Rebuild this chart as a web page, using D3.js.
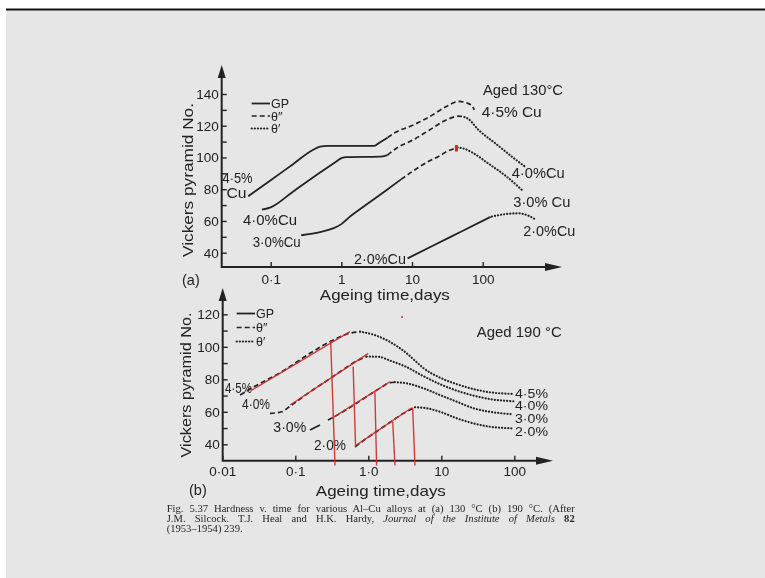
<!DOCTYPE html>
<html><head><meta charset="utf-8">
<script src="https://cdn.jsdelivr.net/npm/d3@7"></script>
<style>
html,body{margin:0;padding:0;background:#fff;}
svg{display:block;}
</style></head>
<body>
<script>
// ---------------- DATA ----------------
// Panel (a): aged 130 °C  — [ageing time (days), Vickers hardness]
const a45_GP  = [[0.048,75.6],[0.1,85.7],[0.2,95.3],[0.4,104.9],[0.5,106.8],[0.65,107.3],[2.9,107.3],[3.5,109.5],[4.5,112.5]];
const a45_th2 = [[4.5,112.5],[5.95,116],[10.2,120.3],[17.5,125.6],[30,131.9],[46,135.3],[61,134.2],[72,132],[76,130]];
const a40_GP  = [[0.075,67.2],[0.1,68.6],[0.2,78],[0.5,90.5],[0.85,97.5],[1.0,99.6],[1.2,100.2],[3.5,100.5],[4.5,101.5]];
const a40_th2 = [[4.5,101.5],[5.95,105.7],[10.2,110.9],[17.5,117.2],[30,123.5],[46,126],[55,125.5]];
const a40_th1 = [[55,125.5],[61,124.6],[88,117.2],[152,108.8],[261,100.4],[404,94]];
const a30_GP  = [[0.27,51],[0.5,53],[0.76,55.3],[1.0,58],[1.31,62.6],[2,68.6],[4,78.3],[7,86.2]];
const a30_th2 = [[7,86.2],[11,92.3],[17,97.5],[24,100.8],[32,104],[44,106.3]];
const a30_th1 = [[44,106.3],[55,105.5],[72,103],[122,96],[210,88.5],[360,79.5]];
const a20_GP  = [[8.65,36.4],[20,44.5],[50,53.4],[129,62.6]];
const a20_th1 = [[135,62.8],[200,64.2],[320,64.8],[450,63.2],[555,61]];

// Panel (b): aged 190 °C
const b45_th2 = [[0.0175,70.3],[0.025,74.5],[0.0685,85.2],[0.159,96],[0.332,104.2],[0.55,108.3],[0.77,109.3]];
const b45_th1 = [[0.77,109.3],[1.17,107.5],[1.98,103],[3.36,96],[4.6,90.5],[5.66,87],[9.6,81],[16.3,77],[27.5,74],[46.5,72],[97,71]];
const b40_th2 = [[0.045,59],[0.065,60],[0.085,63.5],[0.15,71.5],[0.3,80.5],[0.5,87.3],[0.69,91.3],[0.95,94]];
const b40_th1 = [[0.95,94],[1.4,93.8],[1.98,91.5],[3.36,87.5],[5.66,82],[9.6,77],[16.3,73],[27.5,70],[46.5,67.8],[97,66.5]];
const b30_GP  = [[0.159,48.8],[0.218,51.9]];
const b30_th2 = [[0.28,55],[0.45,60],[0.69,65.3],[1.0,70],[1.5,75],[2.0,78],[2.3,78.2]];
const b30_th1 = [[2.3,78.2],[3.36,77.5],[5.66,74.5],[9.6,70.3],[16.3,66.2],[27.5,62.2],[46.5,60],[97,58.5]];
const b20_th2 = [[0.66,38.5],[1.0,44.4],[1.8,52.2],[3,58.9],[4.36,62.8]];
const b20_th1 = [[4.36,62.8],[6.3,62.2],[9.6,60],[16.3,56],[27.5,52.9],[46.5,50.8],[97,49.8]];

// red pen annotations on panel (b)
const bRedLines = [
  [[0.0253,73.4],[0.56,109.3]],
  [[0.085,64.2],[1.0,96]],
  [[0.315,56],[1.98,78.5]],
  [[0.694,39.6],[3.93,62.5]],
  [[0.305,104.2],[0.35,27]],
  [[0.62,87.8],[0.67,38]],
  [[1.23,73],[1.3,27]],
  [[2.16,53.9],[2.32,27]],
  [[4.05,62.5],[4.36,27]]
];
const aRedMark = [[42.5,103.8],[42.5,107.8]];
const bRedDot = [2.9,118.3];

// ticks and labels
const aYTicks = [40,50,60,70,80,90,100,110,120,130,140];
const bYTicks = [40,50,60,70,80,90,100,110,120];
const aXTicks = [0.1,1,10,100];
const aXLabels = ["0·1","1","10","100"];
const bXTicks = [0.01,0.1,1,10,100];
const bXLabels = ["0·01","0·1","1·0","10","100"];
const legendNames = ["GP","θ″","θ′"];
const aCurveLabelsLeft = ["4·5%","Cu","4·0%Cu","3·0%Cu","2·0%Cu"];
const aCurveLabelsRight = ["4·5% Cu","4·0%Cu","3·0% Cu","2·0%Cu"];
const bCurveLabelsLeft = ["4·5%","4·0%","3·0%","2·0%"];
const bCurveLabelsRight = ["4·5%","4·0%","3·0%","2·0%"];
const captionLines = [
  [["Fig. 5.37   Hardness v. time for various Al–Cu alloys at (a) 130 °C (b) 190 °C. (After",""]],
  [["J.M. Silcock. T.J. Heal and H.K. Hardy, ",""],["Journal of the Institute of Metals","i"],[" ",""],["82","b"]],
  [["(1953–1954) 239.",""]]
];

// ---------------- LAYOUT ----------------
const W = 765, H = 578;
const ink = "#222222", red = "#cc2a2a";
const svg = d3.select("body").append("svg").attr("width", W).attr("height", H);
const defs = svg.append("defs");
defs.append("filter").attr("id","soft").append("feGaussianBlur").attr("stdDeviation",0.45);

svg.append("rect").attr("width",W).attr("height",H).attr("fill","#ffffff");
svg.append("rect").attr("x",6).attr("y",10).attr("width",W-6).attr("height",H-10).attr("fill","#e6e6e6");
svg.append("rect").attr("x",6).attr("y",8.5).attr("width",W-6).attr("height",2).attr("fill","#111");

const g = svg.append("g").attr("filter","url(#soft)");
const FONT = "'Liberation Sans', Arial, sans-serif";

const panels = [
  { key:"a", x:d3.scaleLog().domain([0.1,100]).range([270.7,482.7]),
    y:d3.scaleLinear().domain([40,140]).range([252.7,94]),
    left:221.7, bottom:267, top:65, right:562,
    yTicks:aYTicks, xTicks:aXTicks, xLabels:aXLabels, xPad:7,
    series:[[a45_GP,"s"],[a45_th2,"d"],[a40_GP,"s"],[a40_th2,"d"],[a40_th1,"o"],
            [a30_GP,"s"],[a30_th2,"d"],[a30_th1,"o"],[a20_GP,"s"],[a20_th1,"o"]],
    legend:{x0:251.7,x1:270,y0:103.5,dy:12.5,tx:271,fs:12.5},
    title:"Aged 130°C", titleX:483, titleY:95, titleW:80,
    tag:"(a)", tagX:182, tagY:285,
    xTitleY:300, yTitleX:188, yTitleY:180, yTitleW:154 },
  { key:"b", x:d3.scaleLog().domain([0.01,100]).range([222.3,514.3]),
    y:d3.scaleLinear().domain([40,120]).range([444.3,314.3]),
    left:222.7, bottom:460.7, top:288, right:553,
    yTicks:bYTicks, xTicks:bXTicks, xLabels:bXLabels, xPad:6,
    series:[[b45_th2,"d"],[b45_th1,"o"],[b40_th2,"d"],[b40_th1,"o"],[b30_GP,"s"],
            [b30_th2,"d"],[b30_th1,"o"],[b20_th2,"d"],[b20_th1,"o"]],
    legend:{x0:236.7,x1:255,y0:313.5,dy:14,tx:256,fs:12.5},
    title:"Aged 190 °C", titleX:476.7, titleY:337, titleW:85,
    tag:"(b)", tagX:189, tagY:495,
    xTitleY:496, yTitleX:186, yTitleY:385, yTitleW:145 }
];

const styles = {
  s:{dash:null, cap:"butt", w:1.8},
  d:{dash:"5,3", cap:"butt", w:1.7},
  o:{dash:"0.1,3", cap:"round", w:2.2}
};

panels.forEach(p => {
  const pg = g.append("g");
  const ya = d3.axisLeft(p.y).tickValues(p.yTicks).tickSize(-5).tickPadding(3)
      .tickFormat(d => d % 20 === 0 ? d : "");
  const yg = pg.append("g").attr("transform",`translate(${p.left},0)`).call(ya);
  yg.select(".domain").remove();
  yg.selectAll("line").attr("stroke",ink).attr("stroke-width",1.4);
  yg.selectAll("text").attr("fill",ink).style("font-family",FONT).style("font-size","13.5px");
  const xa = d3.axisBottom(p.x).tickValues(p.xTicks).tickSize(-5).tickPadding(p.xPad)
      .tickFormat((d,i) => p.xLabels[i]);
  const xg = pg.append("g").attr("transform",`translate(0,${p.bottom})`).call(xa);
  xg.select(".domain").remove();
  xg.selectAll("line").attr("stroke",ink).attr("stroke-width",1.4);
  xg.selectAll("text").attr("fill",ink).style("font-family",FONT).style("font-size","13.5px");
  pg.append("path").attr("d",`M${p.left},${p.top+8}V${p.bottom}H${p.right-10}`)
    .attr("fill","none").attr("stroke",ink).attr("stroke-width",2);
  pg.append("path").attr("d",`M${p.left},${p.top}L${p.left-4},${p.top+13}L${p.left+4},${p.top+13}Z`).attr("fill",ink);
  pg.append("path").attr("d",`M${p.right},${p.bottom}L${p.right-17},${p.bottom-4}L${p.right-17},${p.bottom+4}Z`).attr("fill",ink);

  const line = d3.line().x(d => p.x(d[0])).y(d => p.y(d[1])).curve(d3.curveMonotoneX);
  p.series.forEach(([data, st]) => {
    const s = styles[st];
    pg.append("path").attr("d", line(data)).attr("fill","none").attr("stroke",ink)
      .attr("stroke-width",s.w).attr("stroke-dasharray",s.dash).attr("stroke-linecap",s.cap);
  });

  const L = p.legend;
  legendNames.forEach((name,i) => {
    const s = styles[["s","d","o"][i]];
    const yy = L.y0 + i*L.dy;
    pg.append("line").attr("x1",L.x0).attr("x2",L.x1).attr("y1",yy).attr("y2",yy)
      .attr("stroke",ink).attr("stroke-width",s.w).attr("stroke-dasharray",s.dash).attr("stroke-linecap",s.cap);
    pg.append("text").attr("x",L.tx).attr("y",yy+4.5).text(name).attr("fill",ink)
      .style("font-family",FONT).style("font-size",L.fs+"px");
  });

  pg.append("text").attr("x",p.titleX).attr("y",p.titleY).text(p.title).attr("fill",ink)
    .attr("textLength",p.titleW).attr("lengthAdjust","spacingAndGlyphs")
    .style("font-family",FONT).style("font-size","15px");
  pg.append("text").attr("x",p.tagX).attr("y",p.tagY).text(p.tag).attr("fill",ink)
    .style("font-family",FONT).style("font-size","14.5px");
  pg.append("text").attr("x",(p.left+p.right)/2 - 7).attr("y",p.xTitleY).attr("text-anchor","middle")
    .text("Ageing time,days").attr("fill",ink).attr("textLength",130).attr("lengthAdjust","spacingAndGlyphs")
    .style("font-family",FONT).style("font-size","15px");
  pg.append("text").attr("transform",`translate(${p.yTitleX},${p.yTitleY}) rotate(-90)`)
    .attr("text-anchor","middle").attr("dy","0.35em").text("Vickers pyramid No.").attr("fill",ink)
    .attr("textLength",p.yTitleW).attr("lengthAdjust","spacingAndGlyphs")
    .style("font-family",FONT).style("font-size","15px");
});

function labels(texts, pos, fs){
  texts.forEach((t,i) => {
    const [x,y,w] = pos[i];
    g.append("text").attr("x",x).attr("y",y).text(t).attr("fill",ink)
      .attr("textLength",w).attr("lengthAdjust","spacingAndGlyphs")
      .style("font-family",FONT).style("font-size",fs+"px");
  });
}
labels(aCurveLabelsLeft, [[222.5,182.5,30],[226.5,197.5,20],[243,224.5,54],[252.7,246.5,48],[354,264,52]], 14.5);
labels(aCurveLabelsRight, [[481.7,116.5,60],[511.7,178,53],[513.3,206.5,57],[523.3,235.5,52]], 14.5);
labels(bCurveLabelsLeft, [[225,393,27],[242,409,28],[273.3,431.5,33],[314,450,32]], 14);
labels(bCurveLabelsRight, [[515,397.5,33],[515,410,33],[515,422.5,33],[515,436,33]], 12);

const pb = panels[1], pa = panels[0];
const rl = d3.line().x(d => pb.x(d[0])).y(d => pb.y(d[1]));
bRedLines.forEach(seg => {
  g.append("path").attr("d", rl(seg)).attr("fill","none").attr("stroke",red)
    .attr("stroke-width",1.4).attr("opacity",0.9);
});
g.append("circle").attr("cx",pb.x(bRedDot[0])).attr("cy",pb.y(bRedDot[1])).attr("r",1).attr("fill",red);
g.append("path").attr("d", d3.line().x(d => pa.x(d[0])).y(d => pa.y(d[1]))(aRedMark))
  .attr("stroke",red).attr("stroke-width",3).attr("fill","none");

// caption, justified with word spacing
const capW = [408, 408, null];
captionLines.forEach((parts,i) => {
  const t = g.append("text").attr("x",166.7).attr("y",511.5 + i*10).attr("fill","#262626")
    .style("font-family","'Liberation Serif','Times New Roman',serif").style("font-size","10.6px");
  parts.forEach(([s,f]) => {
    const ts = t.append("tspan").text(s);
    if (f === "i") ts.style("font-style","italic");
    if (f === "b") ts.style("font-weight","bold");
  });
  if (capW[i]) {
    const nat = t.node().getComputedTextLength();
    const spaces = parts.map(p => p[0]).join("").trim().split(/\s+/).length - 1;
    if (nat < capW[i] && spaces > 0) t.style("word-spacing", ((capW[i]-nat)/spaces) + "px");
    else if (nat > capW[i]) t.attr("textLength", capW[i]).attr("lengthAdjust","spacingAndGlyphs");
  }
});
</script>
</body></html>
